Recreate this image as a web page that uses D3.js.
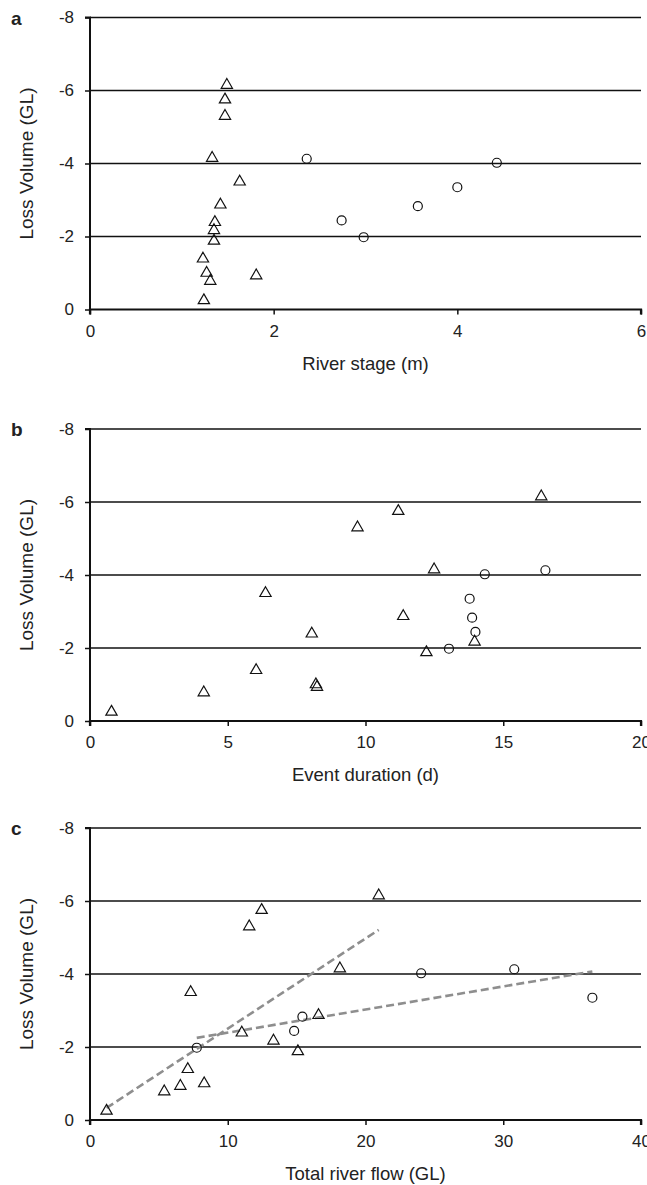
<!DOCTYPE html>
<html>
<head>
<meta charset="utf-8">
<script src="https://cdn.jsdelivr.net/npm/d3@7"></script>
<style>
  body { margin: 0; background: #fff; }
  svg text { font-family: "Liberation Sans", Arial, sans-serif; fill: #222; }
</style>
</head>
<body>
<svg id="chart" width="647" height="1185"></svg>
<script>
// loss volume (GL), triangles then circles
const lossTri = [-6.15, -5.75, -5.3, -4.15, -3.5, -2.87, -2.39, -2.17, -1.88, -1.39, -1.0, -0.78, -0.93, -0.25]
const lossCirc = [-4.13, -4.02, -3.35, -2.44, -1.98, -2.83]

// river stage (m)
const stageTri = [1.49, 1.47, 1.47, 1.33, 1.63, 1.42, 1.36, 1.35, 1.35, 1.23, 1.27, 1.31, 1.81, 1.24]
const stageCirc = [2.36, 4.43, 4.0, 2.74, 2.98, 3.57]

// event duration (d)
const durTri = [16.38, 11.19, 9.71, 12.49, 6.37, 11.37, 8.05, 13.96, 12.21, 6.03, 8.2, 4.13, 8.24, 0.78]
const durCirc = [16.53, 14.33, 13.78, 13.99, 13.03, 13.87]

// total river flow (GL)
const flowTri = [20.96, 12.46, 11.56, 18.14, 7.31, 16.59, 11.02, 13.32, 15.09, 7.1, 8.29, 5.39, 6.56, 1.2]
const flowCirc = [30.8, 24.04, 36.47, 14.82, 7.75, 15.42]

// trend lines in panel c: [x, y] endpoints
const trendTri = [[1.2, -0.33], [20.96, -5.21]]
const trendCirc = [[7.75, -2.25], [36.47, -4.07]]

const yTicks = [0, -2, -4, -6, -8]

const panels = [
  {letter: "a", top: 17.5, xMax: 6, xTicks: [0, 2, 4, 6], xTitle: "River stage (m)", tri: stageTri, circ: stageCirc},
  {letter: "b", top: 429, xMax: 20, xTicks: [0, 5, 10, 15, 20], xTitle: "Event duration (d)", tri: durTri, circ: durCirc},
  {letter: "c", top: 828, xMax: 40, xTicks: [0, 10, 20, 30, 40], xTitle: "Total river flow (GL)", tri: flowTri, circ: flowCirc, trends: [trendTri, trendCirc]}
]

const svg = d3.select("#chart")
const left = 90, right = 641, plotH = 292
const fmt = d => String(d)   // plain hyphen, as in the figure

panels.forEach(p => {
  let x = d3.scaleLinear().domain([0, p.xMax]).range([left, right])
  let y = d3.scaleLinear().domain([0, -8]).range([p.top + plotH, p.top])
  let g = svg.append("g")

  //gridlines
  g.selectAll("line.grid").data(yTicks.filter(d => d != 0)).enter().append("line")
    .attr("class", "grid")
    .attr("x1", left).attr("x2", right)
    .attr("y1", d => y(d)).attr("y2", d => y(d))
    .attr("stroke", "#111").attr("stroke-width", 1.6)

  //y axis
  let ya = g.append("g").attr("transform", `translate(${left},0)`)
    .call(d3.axisLeft(y).tickValues(yTicks).tickSize(5).tickPadding(11).tickFormat(fmt))
  ya.select(".domain").attr("stroke", "#111").attr("stroke-width", 2).attr("d", `M-5,${y(-8)}H0V${y(0)}`)
  ya.selectAll(".tick line").attr("stroke", "#111").attr("stroke-width", 1.5)
  ya.selectAll("text").style("font-size", "17px").attr("fill", "#222")

  //x axis
  let xa = g.append("g").attr("transform", `translate(0,${y(0)})`)
    .call(d3.axisBottom(x).tickValues(p.xTicks).tickSize(5).tickPadding(10).tickFormat(fmt))
  xa.select(".domain").attr("stroke", "#111").attr("stroke-width", 2.2).attr("d", `M${left},5V0H${right}V5`)
  xa.selectAll(".tick line").attr("stroke", "#111").attr("stroke-width", 1.5)
  xa.selectAll("text").style("font-size", "17px").attr("fill", "#222")

  //titles
  g.append("text").attr("x", (left + right) / 2).attr("y", y(0) + 60)
    .attr("text-anchor", "middle").style("font-size", "18.5px").text(p.xTitle)
  g.append("text")
    .attr("transform", `translate(33,${(y(0) + y(-8)) / 2}) rotate(-90)`)
    .attr("text-anchor", "middle").style("font-size", "19px").text("Loss Volume (GL)")
  g.append("text").attr("x", 11).attr("y", p.top + 7)
    .style("font-size", "19px").style("font-weight", "bold").attr("fill", "#111").text(p.letter)

  //trend lines
  if (p.trends) {
    g.selectAll("line.trend").data(p.trends).enter().append("line")
      .attr("class", "trend")
      .attr("x1", d => x(d[0][0])).attr("y1", d => y(d[0][1]))
      .attr("x2", d => x(d[1][0])).attr("y2", d => y(d[1][1]))
      .attr("stroke", "#8e8e8e").attr("stroke-width", 2.6).attr("stroke-dasharray", "8,4")
  }

  //points
  let tri = d3.symbol().type(d3.symbolTriangle).size(55)
  g.selectAll("path.tri").data(p.tri).enter().append("path")
    .attr("class", "tri")
    .attr("d", tri)
    .attr("transform", (d, i) => `translate(${x(d)},${y(lossTri[i])})`)
    .attr("fill", "none").attr("stroke", "#111").attr("stroke-width", 1.2)
  g.selectAll("circle.circ").data(p.circ).enter().append("circle")
    .attr("class", "circ")
    .attr("cx", d => x(d)).attr("cy", (d, i) => y(lossCirc[i]))
    .attr("r", 4.5)
    .attr("fill", "none").attr("stroke", "#111").attr("stroke-width", 1.2)
})
</script>
</body>
</html>
